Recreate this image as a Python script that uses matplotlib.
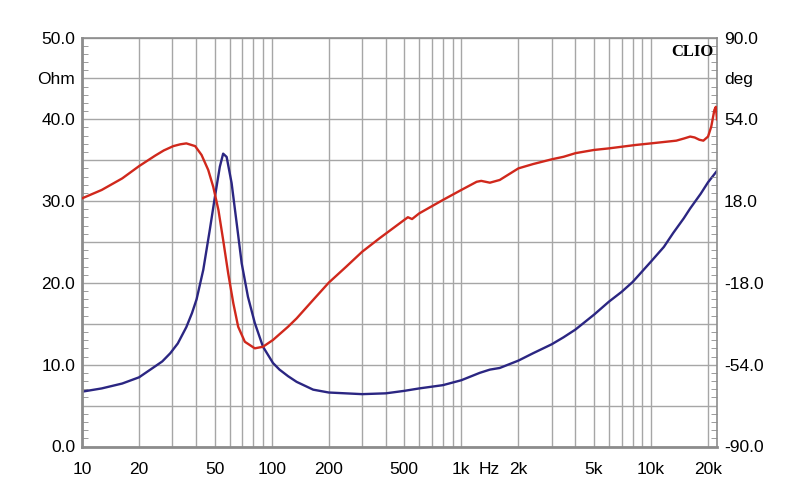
import numpy as np
import matplotlib.pyplot as plt
import matplotlib.transforms as mtransforms
from matplotlib.ticker import FixedLocator, MultipleLocator, NullFormatter

# impedance (Ohm), left axis
f_z = [10, 12.7, 16.3, 20, 24.3, 26.5, 29.2, 32, 35.5, 38, 40.2, 43.6, 47.2, 50.2, 53.3, 55.5,
       57.9, 61.5, 65.4, 69.5, 75, 81.5, 90, 101.7, 110, 122, 135.5, 165.5, 200, 300, 400,
       500, 600, 800, 1000, 1250, 1415, 1595, 2000, 2390, 3000, 3460, 4000, 5000, 6000,
       7000, 8000, 10000, 11700, 13100, 14900, 16100, 18300, 20000, 22300]
z = [6.7, 7.1, 7.7, 8.46, 9.8, 10.4, 11.4, 12.6, 14.6, 16.3, 18.0, 21.6, 26.5, 30.5, 34.2, 35.8,
     35.4, 32.2, 27.3, 22.4, 18.3, 15.1, 12.2, 10.2, 9.4, 8.6, 7.9, 6.95, 6.6, 6.4, 6.5,
     6.8, 7.1, 7.5, 8.1, 9.0, 9.4, 9.6, 10.5, 11.4, 12.5, 13.35, 14.3, 16.1, 17.7,
     18.9, 20.1, 22.6, 24.4, 26.1, 27.9, 29.1, 30.9, 32.3, 33.7]

# phase (deg), right axis
f_p = [10, 12.7, 16.3, 20, 24.3, 27, 30.3, 33, 35.5, 39.5, 42.7, 46.3, 49.2, 52.4, 55.5,
       59, 62.8, 66.6, 72.2, 81.5, 90, 101.7, 110.3, 122, 135.5, 165.5, 200, 247, 300, 370,
       500, 523, 550, 600, 800, 1000, 1205, 1274, 1415, 1595, 2000, 2390, 3000, 3460, 4000,
       5000, 6000, 8300, 10000, 13600, 15000, 16100, 17000, 18000, 18900, 20000, 20800,
       21600, 22000, 22300]
ph = [19.2, 22.9, 28.0, 33.4, 38.0, 40.3, 42.2, 43.0, 43.4, 42.2, 38.3, 31.7, 24.3, 14.1, 0.9,
      -13.8, -27.0, -37.3, -43.9, -46.8, -46.1, -43.1, -40.5, -37.3, -33.6, -25.5, -17.9,
      -10.9, -4.3, 1.6, 9.7, 10.9, 10.1, 12.6, 18.5, 22.9, 26.5, 26.9, 26.1, 27.3, 32.4,
      34.3, 36.4, 37.5, 39.1, 40.5, 41.2, 42.7, 43.4, 44.6, 45.6, 46.4, 46.0, 45.0, 44.6,
      46.4, 50.8, 58.1, 59.5, 54.0]

x_ticks = [10, 20, 50, 100, 200, 500, 1000, 2000, 5000, 10000, 20000]
x_labels = ['10', '20', '50', '100', '200', '500', '1k', '2k', '5k', '10k', '20k']
ohm_ticks = [0, 5, 10, 15, 20, 25, 30, 35, 40, 45, 50]
ohm_labels = ['0.0', '', '10.0', '', '20.0', '', '30.0', '', '40.0', 'Ohm', '50.0']
deg_ticks = [-90, -72, -54, -36, -18, 0, 18, 36, 54, 72, 90]
deg_labels = ['-90.0', '', '-54.0', '', '-18.0', '', '18.0', '', '54.0', 'deg', '90.0']

plt.rcParams['font.family'] = ['Liberation Sans', 'DejaVu Sans']
grid_c = '#a6a6a6'
frame_c = '#8c8c8c'
fs = 12.5

fig = plt.figure(figsize=(8, 5.04), dpi=100)
ax = fig.add_axes([82/800, 1-446.5/504, (717-82)/800, (446.5-37.5)/504])
ax.set_xscale('log')
ax.set_xlim(10, 22300)
ax.set_ylim(0, 50)

ax.xaxis.set_major_locator(FixedLocator(x_ticks))
ax.set_xticklabels(x_labels)
minors = [m * 10**d for d in range(1, 5) for m in range(1, 10)]
ax.xaxis.set_minor_locator(FixedLocator(minors))
ax.xaxis.set_minor_formatter(NullFormatter())
ax.tick_params(axis='x', which='both', length=0, pad=11, labelsize=fs)

ax.yaxis.set_major_locator(FixedLocator(ohm_ticks))
ax.set_yticklabels(ohm_labels)
ax.yaxis.set_minor_locator(MultipleLocator(1))
ax.tick_params(axis='y', which='major', length=0, pad=5, labelsize=fs)
ax.tick_params(axis='y', which='minor', direction='in', length=4, color=frame_c)

ax.grid(axis='x', which='both', color=grid_c, lw=1)
ax.grid(axis='y', which='major', color=grid_c, lw=1)
for s in ax.spines.values():
    s.set_color(frame_c)
    s.set_linewidth(1.2)
ax.spines['left'].set_linewidth(2)
ax.spines['bottom'].set_linewidth(2)

ax.plot(f_z, z, color='#2b2682', lw=1.7)

ax2 = ax.twinx()
ax2.set_ylim(-90, 90)
ax2.yaxis.set_major_locator(FixedLocator(deg_ticks))
ax2.set_yticklabels(deg_labels)
ax2.yaxis.set_minor_locator(MultipleLocator(3.6))
ax2.tick_params(axis='y', which='major', length=0, pad=5, labelsize=fs)
ax2.tick_params(axis='y', which='minor', direction='in', length=4, color=frame_c)
for s in ax2.spines.values():
    s.set_visible(False)
ax2.plot(f_p, ph, color='#d0281c', lw=1.7)

hz_tr = mtransforms.offset_copy(ax.get_xaxis_transform(), fig=fig, y=-11, units='points')
ax.text(1400, 0, 'Hz', transform=hz_tr, ha='center', va='top', fontsize=fs)
ax.text(0.995, 0.985, 'CLIO', transform=ax.transAxes, ha='right', va='top',
        fontsize=12, fontweight='bold', family='Liberation Serif')

fig.savefig('out.png', dpi=100)
